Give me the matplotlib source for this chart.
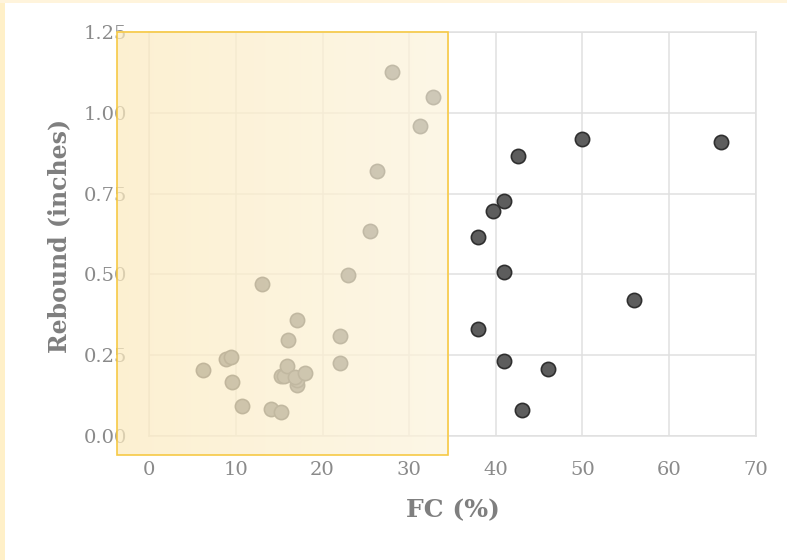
import numpy as np
import matplotlib
matplotlib.use("Agg")
import matplotlib.pyplot as plt
from matplotlib.patches import Rectangle
from matplotlib.colors import to_rgb

# ---- data ----
fc_pct = [6.2, 8.85, 9.4, 9.5, 10.7, 13.0, 14.0, 15.2, 15.2, 15.55, 15.9, 16.0,
          17.0, 17.0, 17.1, 16.85, 18.0, 22.0, 22.0, 22.9, 25.5, 26.3, 28.0, 31.3, 32.8,
          50.0, 66.0, 42.6, 40.9, 39.7, 38.0, 41.0, 56.0, 38.0, 41.0, 46.0, 43.0]
rebound_in = [0.203, 0.239, 0.245, 0.166, 0.093, 0.469, 0.084, 0.073, 0.185, 0.186, 0.218, 0.296,
              0.360, 0.159, 0.173, 0.183, 0.195, 0.309, 0.227, 0.498, 0.635, 0.819, 1.126, 0.958, 1.049,
              0.918, 0.909, 0.867, 0.726, 0.697, 0.616, 0.506, 0.420, 0.332, 0.231, 0.206, 0.080]
x_ticks = [0, 10, 20, 30, 40, 50, 60, 70]
y_ticks = [0.0, 0.25, 0.5, 0.75, 1.0, 1.25]
y_tick_labels = ["0.00", "0.25", "0.50", "0.75", "1.00", "1.25"]
highlight_x = [-3.75, 34.5]
highlight_y = [-0.06, 1.25]

W, H = 787, 560
fig = plt.figure(figsize=(W / 100, H / 100), dpi=100, facecolor="white")

# cream page edges
fig.patches.append(Rectangle((0, 0), 5 / W, 1, transform=fig.transFigure,
                             facecolor="#fff0c8", edgecolor="none", zorder=0))
fig.patches.append(Rectangle((0, 1 - 3 / H), 1, 3 / H, transform=fig.transFigure,
                             facecolor="#fff4dc", edgecolor="none", zorder=0))

ax = fig.add_axes([149.3 / W, 1 - 436 / H, (755.7 - 149.3) / W, (436 - 32) / H])
ax.set_facecolor("white")

grid_c = "#e0e0e0"
ax.grid(True, color=grid_c, lw=1.1, zorder=0)
ax.set_axisbelow(True)
for s in ax.spines.values():
    s.set_color(grid_c)
    s.set_linewidth(1.1)

ax.scatter(fc_pct, rebound_in, s=105, c="#5d5d5d", edgecolors="#2f2f2f",
           linewidths=1.2, zorder=3)

ax.set_xticks(x_ticks)
ax.set_yticks(y_ticks)
ax.set_yticklabels(y_tick_labels)
ax.tick_params(length=0, labelsize=14, labelcolor="#8a8a8a")
ax.tick_params(axis="y", pad=16)
ax.tick_params(axis="x", pad=18)
for lab in ax.get_xticklabels() + ax.get_yticklabels():
    lab.set_fontfamily("DejaVu Serif")

# highlight overlay (drawn over ticks/points)
c_left = np.array(to_rgb("#fcebc0"))
c_right = np.array(to_rgb("#fdf4dd"))
t = np.linspace(0, 1, 256)
grad = (c_left[None, :] * (1 - t[:, None]) + c_right[None, :] * t[:, None])[None, :, :]
im = ax.imshow(grad, extent=[highlight_x[0], highlight_x[1], highlight_y[0], highlight_y[1]],
               aspect="auto", alpha=0.72, zorder=10, interpolation="bilinear")
im.set_clip_on(False)
ax.add_patch(Rectangle((highlight_x[0], highlight_y[0]), highlight_x[1] - highlight_x[0],
                       highlight_y[1] - highlight_y[0], facecolor="none",
                       edgecolor="#f6c945", lw=1.2, zorder=11, clip_on=False))

ax.set_xlim(0, 70)
ax.set_ylim(0, 1.25)

fig.text(59 / W, 1 - 236 / H, "Rebound (inches)", rotation=90, ha="center", va="center",
         fontsize=17, fontweight="bold", color="#7f7f7f", family="DejaVu Serif")
fig.text(453 / W, 1 - 510 / H, "FC (%)", ha="center", va="center",
         fontsize=18, fontweight="bold", color="#7f7f7f", family="DejaVu Serif")

fig.savefig("out.png", dpi=100, facecolor=fig.get_facecolor())
